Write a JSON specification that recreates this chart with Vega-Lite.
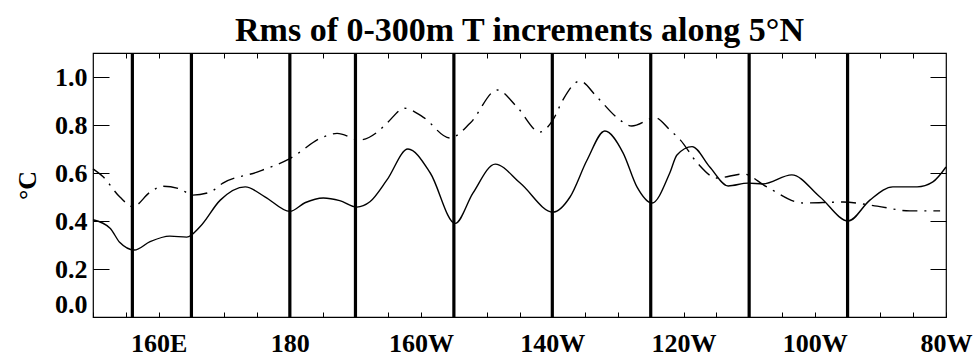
{
  "$schema": "https://vega.github.io/schema/vega-lite/v6.json",
  "width": 853,
  "height": 264,
  "autosize": {"type": "none"},
  "padding": {"left": 93, "top": 53, "right": 32, "bottom": 41},
  "background": "white",
  "title": {
    "text": "Rms of 0-300m T increments along 5°N",
    "font": "Liberation Serif",
    "fontSize": 34,
    "fontWeight": "bold",
    "color": "black",
    "anchor": "middle",
    "offset": 3
  },
  "config": {
    "view": {"stroke": "black", "strokeWidth": 1.2},
    "axis": {
      "labelFont": "Liberation Serif",
      "labelFontSize": 26,
      "labelFontWeight": "bold",
      "labelColor": "black",
      "titleFont": "Liberation Serif",
      "titleFontSize": 26,
      "titleFontWeight": "bold",
      "titleColor": "black",
      "tickColor": "black",
      "tickWidth": 1,
      "domain": false,
      "grid": false,
      "labelOverlap": false
    }
  },
  "datasets": {
    "curves": [
      {"run": "A", "lon": 150, "rms": 0.405},
      {"run": "A", "lon": 152.6, "rms": 0.37},
      {"run": "A", "lon": 154.1, "rms": 0.31},
      {"run": "A", "lon": 156.3, "rms": 0.279},
      {"run": "A", "lon": 158.7, "rms": 0.314},
      {"run": "A", "lon": 161.7, "rms": 0.337},
      {"run": "A", "lon": 164.3, "rms": 0.333},
      {"run": "A", "lon": 166.3, "rms": 0.376},
      {"run": "A", "lon": 169.4, "rms": 0.487},
      {"run": "A", "lon": 173.2, "rms": 0.542},
      {"run": "A", "lon": 176.2, "rms": 0.501},
      {"run": "A", "lon": 180, "rms": 0.44},
      {"run": "A", "lon": 182.3, "rms": 0.476},
      {"run": "A", "lon": 185.1, "rms": 0.496},
      {"run": "A", "lon": 187.6, "rms": 0.485},
      {"run": "A", "lon": 190.2, "rms": 0.458},
      {"run": "A", "lon": 192.2, "rms": 0.48},
      {"run": "A", "lon": 194.8, "rms": 0.571},
      {"run": "A", "lon": 198, "rms": 0.7},
      {"run": "A", "lon": 201.4, "rms": 0.6},
      {"run": "A", "lon": 205.2, "rms": 0.39},
      {"run": "A", "lon": 207.9, "rms": 0.516},
      {"run": "A", "lon": 211.3, "rms": 0.637},
      {"run": "A", "lon": 215.1, "rms": 0.558},
      {"run": "A", "lon": 220.1, "rms": 0.437},
      {"run": "A", "lon": 222.7, "rms": 0.5},
      {"run": "A", "lon": 225.3, "rms": 0.654},
      {"run": "A", "lon": 228, "rms": 0.775},
      {"run": "A", "lon": 230.8, "rms": 0.683},
      {"run": "A", "lon": 232.9, "rms": 0.542},
      {"run": "A", "lon": 235.2, "rms": 0.475},
      {"run": "A", "lon": 237.9, "rms": 0.6},
      {"run": "A", "lon": 239, "rms": 0.675},
      {"run": "A", "lon": 241.3, "rms": 0.71},
      {"run": "A", "lon": 244, "rms": 0.625},
      {"run": "A", "lon": 246.8, "rms": 0.546},
      {"run": "A", "lon": 249.8, "rms": 0.558},
      {"run": "A", "lon": 252.1, "rms": 0.554},
      {"run": "A", "lon": 256.5, "rms": 0.592},
      {"run": "A", "lon": 260.8, "rms": 0.5},
      {"run": "A", "lon": 265.1, "rms": 0.4},
      {"run": "A", "lon": 268.4, "rms": 0.487},
      {"run": "A", "lon": 271.9, "rms": 0.542},
      {"run": "A", "lon": 275.6, "rms": 0.542},
      {"run": "A", "lon": 278, "rms": 0.563},
      {"run": "A", "lon": 280, "rms": 0.625},
      {"run": "B", "lon": 150, "rms": 0.617},
      {"run": "B", "lon": 151.5, "rms": 0.585},
      {"run": "B", "lon": 154.1, "rms": 0.5},
      {"run": "B", "lon": 156.1, "rms": 0.46},
      {"run": "B", "lon": 158.7, "rms": 0.52},
      {"run": "B", "lon": 160.7, "rms": 0.545},
      {"run": "B", "lon": 163.3, "rms": 0.533},
      {"run": "B", "lon": 165.2, "rms": 0.508},
      {"run": "B", "lon": 167.8, "rms": 0.52},
      {"run": "B", "lon": 169.8, "rms": 0.558},
      {"run": "B", "lon": 175, "rms": 0.604},
      {"run": "B", "lon": 180, "rms": 0.66},
      {"run": "B", "lon": 185.1, "rms": 0.75},
      {"run": "B", "lon": 187.2, "rms": 0.765},
      {"run": "B", "lon": 190.7, "rms": 0.738},
      {"run": "B", "lon": 193.3, "rms": 0.77},
      {"run": "B", "lon": 194.8, "rms": 0.808},
      {"run": "B", "lon": 197.5, "rms": 0.87},
      {"run": "B", "lon": 200.3, "rms": 0.833},
      {"run": "B", "lon": 204.4, "rms": 0.746},
      {"run": "B", "lon": 207.5, "rms": 0.808},
      {"run": "B", "lon": 211.6, "rms": 0.946},
      {"run": "B", "lon": 214.6, "rms": 0.876},
      {"run": "B", "lon": 218.1, "rms": 0.771},
      {"run": "B", "lon": 220.1, "rms": 0.821},
      {"run": "B", "lon": 221.6, "rms": 0.904},
      {"run": "B", "lon": 224.2, "rms": 0.983},
      {"run": "B", "lon": 226.8, "rms": 0.917},
      {"run": "B", "lon": 229.9, "rms": 0.83},
      {"run": "B", "lon": 232.1, "rms": 0.796},
      {"run": "B", "lon": 235.7, "rms": 0.83},
      {"run": "B", "lon": 237.9, "rms": 0.78},
      {"run": "B", "lon": 239.5, "rms": 0.738},
      {"run": "B", "lon": 242.1, "rms": 0.642},
      {"run": "B", "lon": 245.1, "rms": 0.579},
      {"run": "B", "lon": 249.1, "rms": 0.596},
      {"run": "B", "lon": 252.7, "rms": 0.542},
      {"run": "B", "lon": 258.2, "rms": 0.475},
      {"run": "B", "lon": 264.3, "rms": 0.479},
      {"run": "B", "lon": 269.5, "rms": 0.462},
      {"run": "B", "lon": 274.5, "rms": 0.442},
      {"run": "B", "lon": 279.1, "rms": 0.442}
    ],
    "moorings": [
      {"lon": 156}, {"lon": 165}, {"lon": 180}, {"lon": 190}, {"lon": 205},
      {"lon": 220}, {"lon": 235}, {"lon": 250}, {"lon": 265}
    ]
  },
  "resolve": {"axis": {"x": "independent", "y": "independent"}},
  "layer": [
    {
      "data": {"name": "moorings"},
      "mark": {"type": "rule", "color": "black", "strokeWidth": 3.2},
      "encoding": {
        "x": {
          "field": "lon",
          "type": "quantitative",
          "scale": {"domain": [150, 280], "nice": false, "zero": false},
          "axis": {
            "orient": "bottom",
            "values": [150, 155, 160, 165, 170, 175, 180, 185, 190, 195, 200, 205, 210, 215, 220, 225, 230, 235, 240, 245, 250, 255, 260, 265, 270, 275, 280],
            "labelExpr": "datum.value % 20 != 0 ? '' : datum.value < 180 ? datum.value + 'E' : datum.value == 180 ? '180' : (360 - datum.value) + 'W'",
            "tickSize": -5,
            "labelPadding": 18,
            "labelFlush": false,
            "title": null
          }
        }
      }
    },
    {
      "data": {"name": "curves"},
      "transform": [{"filter": "datum.run == 'A'"}],
      "mark": {"type": "line", "color": "black", "strokeWidth": 1.4, "interpolate": "monotone"},
      "encoding": {
        "x": {
          "field": "lon",
          "type": "quantitative",
          "axis": {
            "orient": "top",
            "values": [155, 160, 165, 170, 175, 180, 185, 190, 195, 200, 205, 210, 215, 220, 225, 230, 235, 240, 245, 250, 255, 260, 265, 270, 275],
            "labels": false,
            "tickSize": -5,
            "title": null
          }
        },
        "y": {
          "field": "rms",
          "type": "quantitative",
          "scale": {"domain": [0, 1.1], "nice": false},
          "axis": {
            "orient": "left",
            "values": [0, 0.2, 0.4, 0.6, 0.8, 1.0],
            "format": ".1f",
            "tickSize": -16,
            "labelPadding": 22,
            "labelFlush": true,
            "title": "°C",
            "titlePadding": 14
          }
        }
      }
    },
    {
      "data": {"name": "curves"},
      "transform": [{"filter": "datum.run == 'B'"}],
      "mark": {"type": "line", "color": "black", "strokeWidth": 1.4, "strokeDash": [15, 7, 2, 7], "interpolate": "monotone"},
      "encoding": {
        "x": {"field": "lon", "type": "quantitative", "axis": null},
        "y": {
          "field": "rms",
          "type": "quantitative",
          "axis": {
            "orient": "right",
            "values": [0.2, 0.4, 0.6, 0.8, 1.0],
            "labels": false,
            "tickSize": -16,
            "title": null
          }
        }
      }
    }
  ]
}
